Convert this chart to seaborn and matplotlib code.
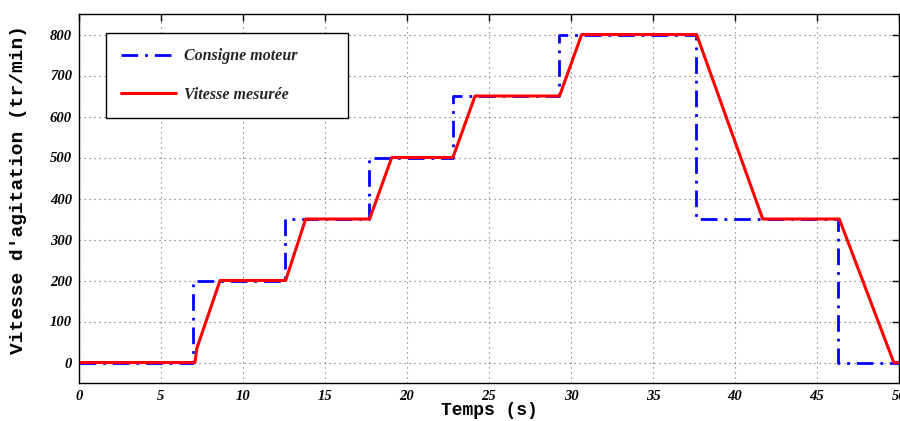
import numpy as np
import pandas as pd
import matplotlib
matplotlib.use("Agg")
import matplotlib.pyplot as plt
import seaborn as sns

# Data
consigne_t = [0, 6.93, 12.56, 17.70, 22.78, 29.29, 37.62, 46.30, 50]
consigne_v = [0, 200, 350, 500, 650, 800, 350, 0, 0]

mesure_t = [0, 7.07, 7.18, 8.60, 12.60, 13.82, 17.72, 19.07, 22.80, 24.15,
            29.30, 30.65, 37.66, 41.69, 46.36, 49.68, 50]
mesure_v = [0, 0, 34, 200, 200, 350, 350, 500, 500, 650,
            650, 800, 800, 350, 350, 0, 0]

x_ticks = [0, 5, 10, 15, 20, 25, 30, 35, 40, 45, 50]
y_ticks = [0, 100, 200, 300, 400, 500, 600, 700, 800]

label_consigne = "Consigne moteur"
label_mesure = "Vitesse mesurée"
xlabel = "Temps (s)"
ylabel = "Vitesse d'agitation (tr/min)"

sns.set_theme(style="white")
plt.rcParams['font.family'] = ['DejaVu Sans']

fig = plt.figure(figsize=(9.0, 4.21), dpi=100)
ax = fig.add_axes([79/900, 1 - 383/421, (899 - 79)/900, (383 - 14)/421])

df_c = pd.DataFrame({"t": consigne_t, "v": consigne_v})
df_m = pd.DataFrame({"t": mesure_t, "v": mesure_v})

sns.lineplot(data=df_c, x="t", y="v", ax=ax, color="#0000ff", linewidth=2.0,
             drawstyle="steps-post", label=label_consigne, estimator=None, sort=False,
             dashes=False)
ax.lines[-1].set_dashes([6, 2.5, 1, 2.5])
sns.lineplot(data=df_m, x="t", y="v", ax=ax, color="#ff0000", linewidth=2.2,
             label=label_mesure, estimator=None, sort=False)

ax.set_xlim(0, 50)
ax.set_ylim(-50, 850)
ax.set_xticks(x_ticks)
ax.set_yticks(y_ticks)

tick_font = dict(family="Liberation Serif", weight="bold", style="italic", size=10.5)
ax.set_xticklabels([str(v) for v in x_ticks], fontdict=tick_font)
ax.set_yticklabels([str(v) for v in y_ticks], fontdict=tick_font)

ax.grid(True, linestyle=(0, (1, 3.5)), color="0.4", linewidth=0.8)
ax.tick_params(direction="in", top=True, right=True, length=5, width=1,
               color="black", pad=5, labelcolor="black")
for s in ax.spines.values():
    s.set_color("black")
    s.set_linewidth(1.0)
    s.set_visible(True)

ax.set_xlabel(xlabel, fontdict=dict(family="Liberation Mono", weight="bold", size=13, color="black"),
              labelpad=-1)
ax.set_ylabel(ylabel, fontdict=dict(family="Liberation Mono", weight="bold", size=14, color="black"))
ax.yaxis.set_label_coords(-0.063, 0.525)

leg = ax.legend(loc="upper left", bbox_to_anchor=(0.033, 0.0, 0.295, 0.9485),
                mode="expand", borderaxespad=0, frameon=True, fancybox=False,
                edgecolor="black", framealpha=1, handlelength=3.4,
                handletextpad=0.5, labelspacing=1.4, borderpad=0.95,
                prop=dict(family="Liberation Serif", weight="bold", style="italic", size=11.5))
leg.get_frame().set_linewidth(1.0)

fig.savefig("out.png", dpi=100)
